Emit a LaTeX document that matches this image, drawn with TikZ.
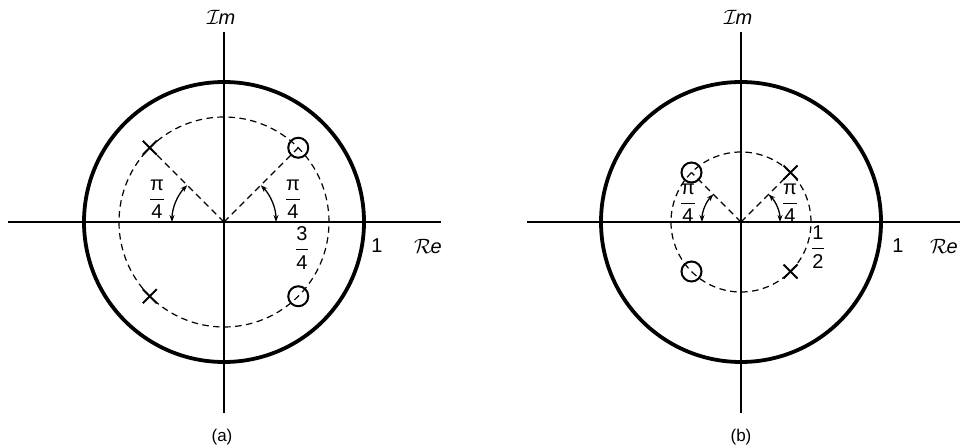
\documentclass[tikz,border=0pt]{standalone}
\usepackage{amsmath}
\usepackage{fontspec}
\setmainfont{Liberation Sans}
\usetikzlibrary{arrows.meta,calc}
\tikzset{
  axis/.style={line width=1.3pt},
  unitc/.style={line width=3.8pt},
  dashc/.style={line width=1.2pt, dash pattern=on 6.5pt off 4.5pt},
  angarc/.style={line width=1.3pt, {Stealth[length=7pt,width=5pt]}-{Stealth[length=7pt,width=5pt]}},
  zerom/.style={circle, draw, line width=2pt, minimum size=20pt, inner sep=0pt},
  polem/.style={line width=2pt},
  lbl/.style={inner sep=1pt, font=\fontsize{20}{24}\selectfont},
  captxt/.style={inner sep=1pt, font=\fontsize{17}{20}\selectfont},
}
\newcommand{\polex}[1]{\draw[polem] ($(#1)+(-7,-7)$) -- ($(#1)+(7,7)$) ($(#1)+(-7,7)$) -- ($(#1)+(7,-7)$);}
\begin{document}
\begin{tikzpicture}[x=1pt,y=1pt]
\useasboundingbox (0,0) rectangle (964,445);
% ---------- (a) ----------
\coordinate (Oa) at (224,223);
\coordinate (ax1) at (8,223);
\coordinate (ax2) at (441,223);
\coordinate (ay1) at (224,32);
\coordinate (ay2) at (224,413);
\draw[axis] (ax1) -- (ax2);
\draw[axis] (ay1) -- (ay2);
\draw[unitc] (Oa) circle (140);
\draw[dashc] (Oa) circle (105);
\coordinate (a1) at ($(Oa)+(45:105)$);
\coordinate (a2) at ($(Oa)+(135:105)$);
\coordinate (a3) at ($(Oa)+(225:105)$);
\coordinate (a4) at ($(Oa)+(315:105)$);
\draw[dashc] (Oa) -- (a1);
\draw[dashc] (Oa) -- (a2);
\draw[angarc] ($(Oa)+(0:52)$) arc (0:45:52);
\draw[angarc] ($(Oa)+(180:52)$) arc (180:135:52);
\node[zerom] (za1) at (a1) {};
\node[zerom] (za4) at (a4) {};
\polex{a2}
\polex{a3}
\node[lbl] (imA) at (221,428) {$\mathcal{I}\mkern-1mu\mathit{m}$};
\node[lbl] (reA) at (428,198) {$\mathcal{R}\mkern-1mu\mathit{e}$};
\node[lbl] (oneA) at (377,199) {1};
\node[lbl] (pa1) at (157,246) {$\dfrac{\text{π}}{\text{4}}$};
\node[lbl] (pa2) at (293,246) {$\dfrac{\text{π}}{\text{4}}$};
\node[lbl] (ta) at (302,197) {$\dfrac{\text{3}}{\text{4}}$};
\node[captxt] (capa) at (222,8) {(a)};
% ---------- (b) ----------
\coordinate (Ob) at (741,223);
\coordinate (bx1) at (527,223);
\coordinate (bx2) at (960,223);
\coordinate (by1) at (741,32);
\coordinate (by2) at (741,413);
\draw[axis] (bx1) -- (bx2);
\draw[axis] (by1) -- (by2);
\draw[unitc] (Ob) circle (140);
\draw[dashc] (Ob) circle (70);
\coordinate (b1) at ($(Ob)+(45:70)$);
\coordinate (b2) at ($(Ob)+(135:70)$);
\coordinate (b3) at ($(Ob)+(225:70)$);
\coordinate (b4) at ($(Ob)+(315:70)$);
\draw[dashc] (Ob) -- (b1);
\draw[dashc] (Ob) -- (b2);
\draw[angarc] ($(Ob)+(0:39)$) arc (0:45:39);
\draw[angarc] ($(Ob)+(180:39)$) arc (180:135:39);
\node[zerom] (zb2) at (b2) {};
\node[zerom] (zb3) at (b3) {};
\polex{b1}
\polex{b4}
\node[lbl] (imB) at (738,428) {$\mathcal{I}\mkern-1mu\mathit{m}$};
\node[lbl] (reB) at (944,198) {$\mathcal{R}\mkern-1mu\mathit{e}$};
\node[lbl] (oneB) at (898,199) {1};
\node[lbl] (pb1) at (688,242) {$\dfrac{\text{π}}{\text{4}}$};
\node[lbl] (pb2) at (790,242) {$\dfrac{\text{π}}{\text{4}}$};
\node[lbl] (hb) at (818,198) {$\dfrac{\text{1}}{\text{2}}$};
\node[captxt] (capb) at (741,8) {(b)};
\end{tikzpicture}
\end{document}
